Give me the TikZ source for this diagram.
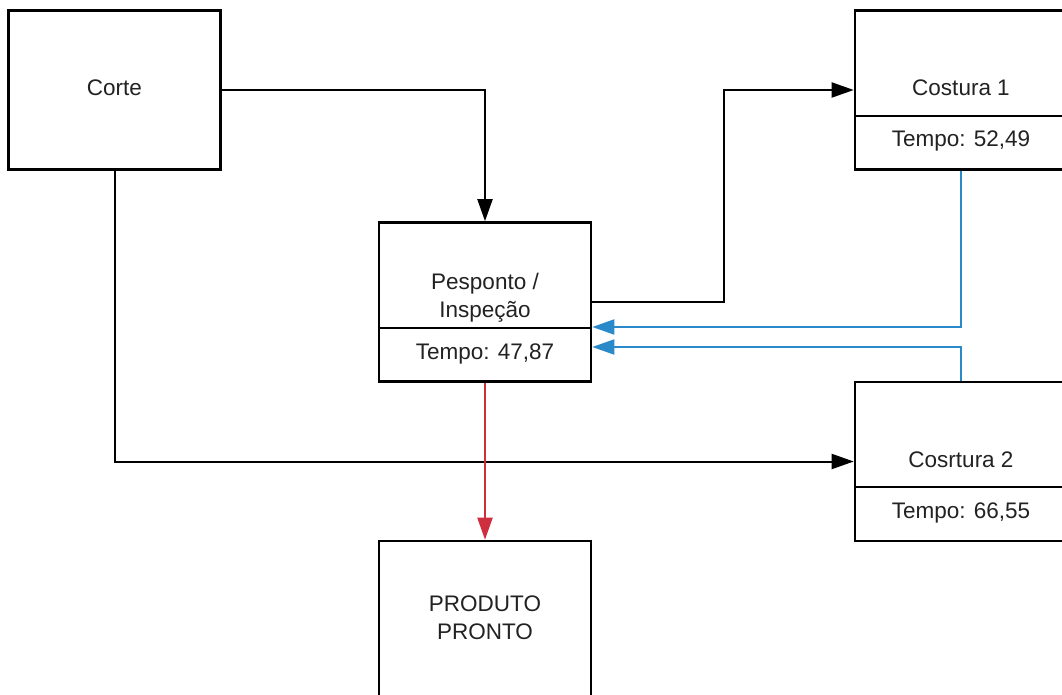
\documentclass[tikz,border=0pt]{standalone}
\usepackage{fontspec}
\setmainfont{Liberation Sans}
\usetikzlibrary{arrows.meta,positioning,calc}
\definecolor{myblue}{HTML}{2A8AC9}
\definecolor{myred}{HTML}{CF2E3E}
\definecolor{txt}{HTML}{222222}
\begin{document}
\begin{tikzpicture}[x=1pt,y=-1pt,
  box/.style={draw=black,line width=2.6pt,fill=white,inner sep=0pt},
  lbl/.style={text=txt,font=\fontsize{22.5}{28}\selectfont,align=center,inner sep=0pt},
  conn/.style={line width=2pt,-{Triangle[length=22pt,width=15pt]}},
]
\clip (0,0) rectangle (1062,695);
\fill[white] (0,0) rectangle (1062,695);
% boxes
\node[box,minimum width=212pt,minimum height=159pt] (corte) at (114.5,90) {};
\node[lbl] (tcorte) at (114.5,88) {Corte};
\node[box,minimum width=212pt,minimum height=159pt] (pesp) at (485,302) {};
\node[lbl] (tpesp) at (485,298) {Pesponto /\\Inspeção};
\node[lbl] (tpespt) at (485,354) {Tempo: 47,87};
\node[box,minimum width=212pt,minimum height=159pt] (cost1) at (961,90) {};
\node[lbl] (tc1) at (961,88) {Costura 1};
\node[lbl] (tc1t) at (961,141) {Tempo: 52,49};
\node[box,minimum width=212pt,minimum height=159pt] (cost2) at (961,461.5) {};
\node[lbl] (tc2) at (961,460) {Cosrtura 2};
\node[lbl] (tc2t) at (961,513) {Tempo: 66,55};
\node[box,minimum width=212pt,minimum height=220pt] (prod) at (485,651) {};
\node[lbl] (tprod) at (485,618) {PRODUTO\\PRONTO};
% dividers
\draw[line width=2.6pt] (pesp.west |- 0,328) -- (pesp.east |- 0,328);
\draw[line width=2.6pt] (cost1.west |- 0,116) -- (cost1.east |- 0,116);
\draw[line width=2.6pt] (cost2.west |- 0,487) -- (cost2.east |- 0,487);
% connectors
\draw[conn] (corte.east) -| (pesp.north);
\draw[conn] (pesp.east) -- ++(132,0) |- (cost1.west);
\draw[conn] (corte.south) |- (cost2.west);
\draw[conn,myblue] (cost1.south) |- ([yshift=-25pt]pesp.east);
\draw[conn,myblue] (cost2.north) |- ([yshift=-45pt]pesp.east);
\draw[conn,myred] (pesp.south) -- (prod.north);
\end{tikzpicture}
\end{document}
